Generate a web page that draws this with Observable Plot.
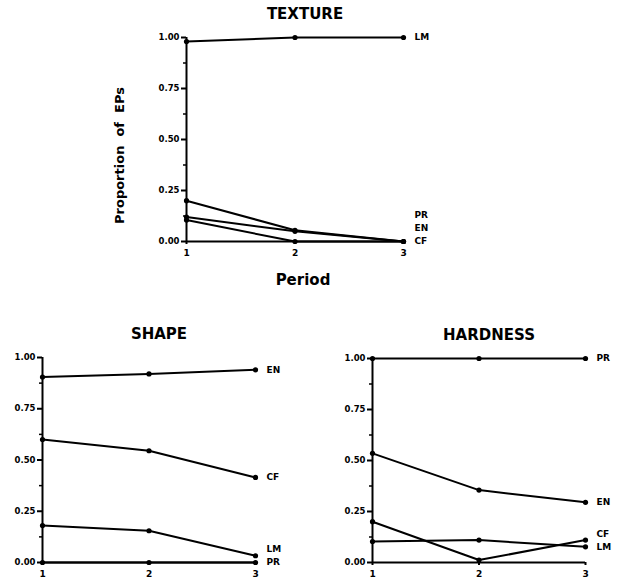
<!DOCTYPE html>
<html>
<head>
<meta charset="utf-8">
<script src="https://cdn.jsdelivr.net/npm/d3@7"></script>
<script src="https://cdn.jsdelivr.net/npm/@observablehq/plot@0.6"></script>
<style>
  html, body { margin: 0; padding: 0; background: white; }
  #wrap { position: relative; width: 622px; height: 582px; overflow: hidden; background: white; }
  #wrap > div { position: absolute; }
</style>
</head>
<body>
<div id="wrap">
  <div id="texture" style="left:0px;top:0px"></div>
  <div id="shape" style="left:0px;top:300px"></div>
  <div id="hardness" style="left:311px;top:300px"></div>
</div>
<script>
// ---- data ----
const periods = [1, 2, 3];
const categories = ["LM", "PR", "EN", "CF"];
const yTicks = [0, 0.25, 0.5, 0.75, 1];

const textureLM = [0.98, 1.00, 1.00];
const texturePR = [0.20, 0.055, 0.00];
const textureEN = [0.12, 0.05, 0.00];
const textureCF = [0.105, 0.00, 0.00];

const shapeLM = [0.18, 0.155, 0.033];
const shapePR = [0.00, 0.00, 0.00];
const shapeEN = [0.905, 0.92, 0.94];
const shapeCF = [0.60, 0.545, 0.415];

const hardnessLM = [0.103, 0.11, 0.077];
const hardnessPR = [1.00, 1.00, 1.00];
const hardnessEN = [0.535, 0.355, 0.295];
const hardnessCF = [0.20, 0.012, 0.11];

const panels = [
  {id: "texture", title: "TEXTURE", series: {LM: textureLM, PR: texturePR, EN: textureEN, CF: textureCF}},
  {id: "shape", title: "SHAPE", series: {LM: shapeLM, PR: shapePR, EN: shapeEN, CF: shapeCF}},
  {id: "hardness", title: "HARDNESS", series: {LM: hardnessLM, PR: hardnessPR, EN: hardnessEN, CF: hardnessCF}}
];

// ---- layout (styling only) ----
const layout = {
  texture:  {width: 622, height: 290, marginLeft: 186, marginRight: 219, marginTop: 37, marginBottom: 49, ylabel: true},
  shape:    {width: 311, height: 282, marginLeft: 42, marginRight: 56, marginTop: 57, marginBottom: 20, ylabel: false},
  hardness: {width: 311, height: 282, marginLeft: 61, marginRight: 37, marginTop: 58, marginBottom: 20, ylabel: false}
};

const FONT = "DejaVu Sans, Verdana, sans-serif";

function build(panel) {
  const L = layout[panel.id];
  const plotH = L.height - L.marginTop - L.marginBottom;
  const rows = [];
  for (const c of categories) {
    panel.series[c].forEach((v, i) => rows.push({cat: c, period: periods[i], value: v}));
  }
  // end labels, dodged so they don't overlap
  const ends = categories.map(c => {
    const s = panel.series[c];
    return {cat: c, value: s[s.length - 1], mean: d3.mean(s)};
  }).sort((a, b) => a.value - b.value || a.mean - b.mean);
  const gap = 13 / plotH;
  ends.forEach((d, i) => {
    d.pos = i === 0 ? d.value : Math.max(d.value, ends[i - 1].pos + gap);
  });

  const marks = [
    Plot.axisY({ticks: d3.range(0.125, 1, 0.25), tickSize: 3, tickFormat: () => "", strokeWidth: 1.5}),
    Plot.axisY({ticks: yTicks, tickSize: 5, tickPadding: 2, tickFormat: d3.format(".2f"), strokeWidth: 2,
                fontSize: 8.5, fontWeight: "bold", label: null}),
    Plot.axisX({ticks: periods, tickSize: 3, tickPadding: 5, tickFormat: d3.format("d"), strokeWidth: 2,
                fontSize: 9, fontWeight: "bold", label: null}),
    Plot.ruleX([1], {y1: 0, y2: 1, strokeWidth: 2}),
    Plot.ruleY([0], {x1: 1, x2: 3, strokeWidth: 2}),
    Plot.line(rows, {x: "period", y: "value", z: "cat", stroke: "black", strokeWidth: 2}),
    Plot.dot(rows, {x: "period", y: "value", r: 2.6, fill: "black", stroke: "none"}),
    Plot.text(ends, {x: () => 3, y: "pos", text: "cat", dx: 11, textAnchor: "start", fontSize: 9, fontWeight: "bold"}),
    Plot.text([panel.title], {frameAnchor: "top", dx: 10, dy: -23, lineAnchor: "middle", fontSize: 15, fontWeight: "bold"})
  ];
  if (L.ylabel) {
    marks.push(Plot.text(["Proportion  of  EPs"], {frameAnchor: "left", dx: -67, dy: 16, rotate: -90,
      textAnchor: "middle", lineAnchor: "middle", fontSize: 13, fontWeight: "bold"}));
    marks.push(Plot.text(["Period"], {frameAnchor: "bottom", dx: 8, dy: 39, lineAnchor: "middle",
      fontSize: 15, fontWeight: "bold"}));
  }
  const chart = Plot.plot({
    width: L.width, height: L.height,
    marginLeft: L.marginLeft, marginRight: L.marginRight, marginTop: L.marginTop, marginBottom: L.marginBottom,
    x: {domain: [1, 3], axis: null},
    y: {domain: [0, 1], axis: null},
    style: {fontFamily: FONT, fontWeight: "bold", background: "white", color: "black", overflow: "visible"},
    marks
  });
  document.getElementById(panel.id).appendChild(chart);
}
panels.forEach(build);
</script>
</body>
</html>
